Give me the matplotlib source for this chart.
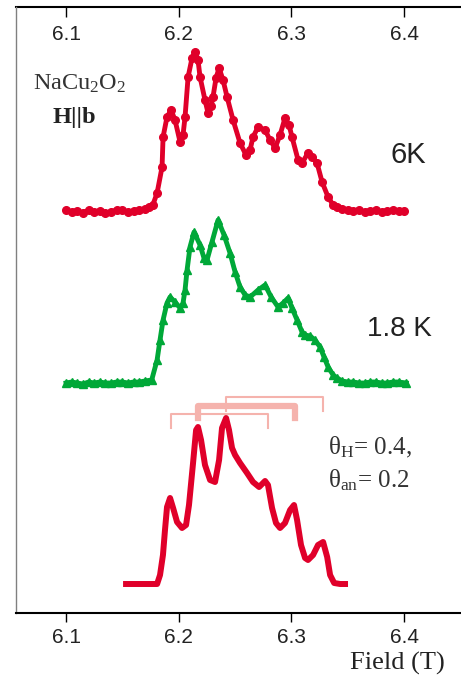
import matplotlib.pyplot as plt

plt.rcParams["mathtext.fontset"] = "custom"
plt.rcParams["mathtext.rm"] = "Liberation Serif"
plt.rcParams["mathtext.it"] = "Liberation Serif:italic"
plt.rcParams["mathtext.bf"] = "Liberation Serif:bold"

# 6K measured spectrum (field in T, intensity in arbitrary offset units)
field_6k = [6.100, 6.105, 6.110, 6.115, 6.120, 6.125, 6.130, 6.135, 6.140, 6.145,
            6.150, 6.155, 6.160, 6.165, 6.170, 6.174, 6.177, 6.1808, 6.1852, 6.1861,
            6.1896, 6.1932, 6.1967, 6.2012, 6.2038, 6.2056, 6.2083, 6.2118, 6.2145, 6.2171,
            6.2189, 6.2233, 6.2260, 6.2287, 6.2304, 6.2331, 6.2358, 6.2393, 6.2429, 6.2482,
            6.2544, 6.2597, 6.2633, 6.2659, 6.2704, 6.2766, 6.2810, 6.2855, 6.2899, 6.2943,
            6.2979, 6.3005, 6.3059, 6.3094, 6.3147, 6.3183, 6.3227, 6.3272, 6.3325, 6.3370,
            6.3405, 6.345, 6.350, 6.355, 6.360, 6.365, 6.370, 6.375, 6.380, 6.385,
            6.390, 6.395, 6.400]
int_6k = [403, 401, 402, 400, 403, 401, 402, 400, 401, 403,
          403, 401, 402, 403, 404, 406, 408, 420, 446, 476,
          496, 503, 493, 471, 478, 496, 536, 555, 561, 553,
          536, 513, 500, 507, 516, 535, 545, 533, 516, 493,
          470, 458, 463, 476, 486, 483, 473, 465, 478, 495,
          488, 476, 453, 450, 460, 456, 450, 431, 416, 408,
          406, 404, 403, 402, 403, 401, 402, 403, 401, 402,
          403, 402, 402]

# 1.8K measured spectrum
field_18k = [6.100, 6.105, 6.110, 6.115, 6.120, 6.125, 6.130, 6.135, 6.140, 6.145,
             6.150, 6.155, 6.160, 6.165, 6.170, 6.176, 6.1808, 6.1834, 6.1861, 6.1896,
             6.1923, 6.1967, 6.2012, 6.2038, 6.2056, 6.2074, 6.2100, 6.2136, 6.2189, 6.2224,
             6.2251, 6.2295, 6.2349, 6.2402, 6.2455, 6.2500, 6.2544, 6.2589, 6.2633, 6.2704,
             6.2766, 6.2820, 6.2881, 6.2926, 6.2970, 6.3005, 6.3050, 6.3094, 6.3121, 6.3165,
             6.3209, 6.3254, 6.3289, 6.3325, 6.3370, 6.3405, 6.345, 6.350, 6.355, 6.360,
             6.365, 6.370, 6.375, 6.380, 6.385, 6.390, 6.395, 6.402]
int_18k = [230, 231, 230, 229, 231, 230, 231, 230, 230, 231,
           231, 230, 231, 231, 232, 233, 253, 273, 293, 310,
           316, 311, 305, 310, 323, 343, 366, 381, 368, 355,
           353, 371, 393, 378, 360, 341, 326, 318, 316, 323,
           328, 316, 306, 310, 315, 305, 293, 281, 278, 277,
           273, 266, 256, 246, 238, 235, 232, 231, 231, 230,
           230, 231, 231, 230, 230, 231, 231, 230]

# simulated spectrum (theta_H = 0.4, theta_an = 0.2)
field_sim = [6.1506, 6.170, 6.1808, 6.1834, 6.186, 6.1878, 6.1896, 6.1923, 6.195, 6.1985,
             6.2029, 6.2065, 6.2091, 6.2127, 6.2154, 6.2171, 6.2198, 6.2233, 6.2278, 6.2322,
             6.2358, 6.2384, 6.2420, 6.2446, 6.2473, 6.2500, 6.2544, 6.2606, 6.2659, 6.2713,
             6.2766, 6.2792, 6.2828, 6.2863, 6.2899, 6.2943, 6.2988, 6.3023, 6.3050, 6.3085,
             6.3121, 6.3147, 6.3192, 6.3236, 6.3281, 6.3317, 6.3343, 6.3379, 6.3432, 6.3502]
int_sim = [29, 29, 29, 38, 58, 83, 106, 115, 105, 91,
           85, 88, 108, 150, 183, 186, 173, 148, 133, 131,
           153, 185, 195, 183, 165, 158, 150, 140, 131, 126,
           132, 128, 105, 90, 85, 90, 103, 108, 93, 68,
           55, 53, 58, 68, 71, 56, 38, 30, 29, 29]

# line-position combs
comb_left = [6.1932, 6.2172, 6.2417]
comb_right = [6.2790, 6.3033, 6.3283]
comb_top = [199, 207, 216]
comb_bottom = [185, 195, 202]
comb_width = [1.5, 4.5, 1.5]

tick_vals = [6.1, 6.2, 6.3, 6.4]
tick_labels = ["6.1", "6.2", "6.3", "6.4"]

red = "#e0002a"
green = "#00a838"
pink = "#f5b3ad"

fig = plt.figure(figsize=(4.61, 6.81), dpi=100)
ax = fig.add_axes([16 / 461, 68 / 681, 456 / 461, 606 / 681])

ax.plot(field_6k, int_6k, color=red, lw=3.5, marker="o", ms=5.5, zorder=3)
ax.plot(field_18k, int_18k, color=green, lw=3.5, marker="^", ms=6, zorder=3)
ax.plot(field_sim, int_sim, color=red, lw=4.3, solid_joinstyle="round",
        solid_capstyle="butt", zorder=3)

for l, r, t, b, w in zip(comb_left, comb_right, comb_top, comb_bottom, comb_width):
    ax.plot([l, l, r, r], [b, t, t, b], color=pink, lw=w, zorder=2)

ax.set_xlim(6.0556, 6.0556 + 456 / 1127)
ax.set_ylim(0, 606)
ax.set_yticks([])

ax.set_xticks(tick_vals)
ax.set_xticklabels(tick_labels, family="Liberation Sans", fontsize=15, color="#222222")
ax.tick_params(axis="x", direction="out", length=6.5, width=1, pad=4)

top = ax.secondary_xaxis("top")
top.set_xticks(tick_vals)
top.set_xticklabels(tick_labels, family="Liberation Sans", fontsize=15, color="#222222")
top.tick_params(direction="in", length=7, width=1, pad=-27)
top.spines["top"].set_linewidth(1.5)

ax.spines["right"].set_visible(False)
ax.spines["top"].set_visible(False)
ax.spines["bottom"].set_linewidth(1.5)
ax.spines["left"].set_color("#808080")
ax.spines["left"].set_linewidth(1)

fig.text(33 / 461, 1 - 84 / 681, r"NaCu$_2$O$_2$", family="Liberation Serif",
         fontsize=17.5, color="#333333", ha="left", va="center")
fig.text(53 / 461, 1 - 117 / 681, "H||b", family="Liberation Serif",
         fontsize=17.5, fontweight="bold", color="#222222", ha="left", va="center")
fig.text(390 / 461, 1 - 155 / 681, "6K", family="Liberation Sans",
         fontsize=21, color="#222222", ha="left", va="center")
fig.text(367 / 461, 1 - 329 / 681, "1.8 K", family="Liberation Sans",
         fontsize=20, color="#222222", ha="left", va="center")
fig.text(328 / 461, 1 - 447 / 681, r"θ$_{\rm H}$= 0.4,", family="Liberation Serif",
         fontsize=18, color="#333333", ha="left", va="center")
fig.text(328 / 461, 1 - 480 / 681, r"θ$_{\rm an}$= 0.2", family="Liberation Serif",
         fontsize=18, color="#333333", ha="left", va="center")
fig.text(445 / 461, 1 - 663 / 681, "Field (T)", family="Liberation Serif",
         fontsize=19, color="#222222", ha="right", va="center")

fig.savefig("out.png", dpi=100)
